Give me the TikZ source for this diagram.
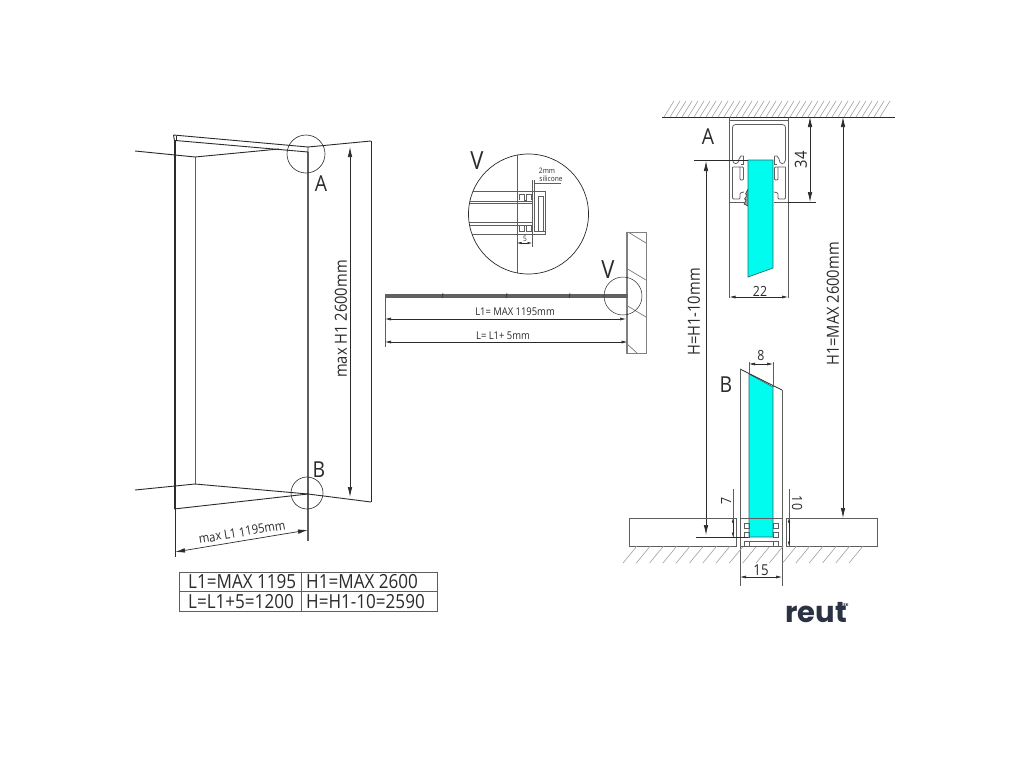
\documentclass[tikz,border=0pt]{standalone}
\usepackage{fontspec}
\setmainfont[FakeStretch=0.88]{Open Sans}
\usetikzlibrary{arrows.meta}
\definecolor{ink}{HTML}{2B2B2B}
\definecolor{thin}{HTML}{5E5E5E}
\definecolor{hatchc}{HTML}{A0A0A0}
\definecolor{glass}{HTML}{00FBEF}
\definecolor{glassline}{HTML}{1F6F6F}
\definecolor{logoc}{HTML}{2A3244}
\newfontfamily\logofont{Poppins}
\tikzset{
  x=1pt,y=-1pt,
  main/.style={draw=ink,line width=0.9pt},
  heavy/.style={draw=ink,line width=1.1pt},
  fine/.style={draw=thin,line width=0.75pt},
  hair/.style={draw=thin,line width=0.5pt},
  dim/.style={draw=ink,line width=0.7pt,{Latex[length=10pt,width=4.5pt]}-{Latex[length=10pt,width=4.5pt]}},
  middim/.style={draw=ink,line width=0.6pt,{Latex[length=6pt,width=3pt]}-{Latex[length=6pt,width=3pt]}},
  smalldim/.style={draw=ink,line width=0.5pt,{Latex[length=4.5pt,width=2.5pt]}-{Latex[length=4.5pt,width=2.5pt]}},
  hatchline/.style={draw=hatchc,line width=0.6pt},
  big/.style={font=\fontsize{22}{22}\selectfont,text=ink,inner sep=0pt},
  label15/.style={font=\fontsize{16.7}{17}\selectfont,text=ink,inner sep=0pt},
  label11/.style={font=\fontsize{12.8}{13}\selectfont,text=ink,inner sep=0pt},
  label9/.style={font=\fontsize{10.7}{11}\selectfont,text=ink,inner sep=0pt},
  tiny7/.style={font=\fontsize{7.5}{8}\selectfont,text=ink,inner sep=0pt},
  tablet/.style={font=\fontsize{19.4}{20}\selectfont,text=ink,inner sep=0pt,anchor=west},
  glasspane/.style={fill=glass,draw=glassline,line width=0.7pt},
}
\begin{document}
\begin{tikzpicture}
\useasboundingbox (0,0) rectangle (1024,768);
\fill[white] (0,0) rectangle (1024,768);

%% ---------- Left view ----------
\draw[heavy] (175,140) -- (175,509);
\draw[fine] (195,157) -- (195,484);
\draw[heavy,draw=thin] (308,152) -- (308,541);
\draw[main] (371,141) -- (371,502);
\draw[main] (173.5,135) -- (308,147) -- (308,152) -- (175.5,140.5) -- (174.5,141) -- (173.5,135);
\draw[main] (176,135.5) -- (176,141);
\draw[main] (135,151) -- (195,157) -- (279,149);
\draw[main] (308,147) -- (371,141);
\draw[main] (135,490) -- (195,484) -- (308,494) -- (371,502);
\draw[main] (174,509) -- (308,494);
\draw[main] (175,509) -- (175,557);
\node[circle,draw=ink,line width=0.6pt,minimum size=38pt,inner sep=0pt] (circA) at (306,154) {};
\node[circle,draw=ink,line width=0.6pt,minimum size=32pt,inner sep=0pt] (circB) at (307,493) {};
\node[big] (lblA) at (321,184) {A};
\node[big] (lblB) at (319,470) {B};
\coordinate (h1top) at (350,147);
\coordinate (h1bot) at (350,497);
\draw[dim] (h1top) -- (h1bot);
\node[label15,rotate=90] (maxh) at (341,319) {max H1 2600mm};
\coordinate (l1a) at (175,552);
\coordinate (l1b) at (308,530);
\draw[dim] (l1a) -- (l1b);
\node[label11,rotate=9.5] (maxl) at (242,532) {max L1 1195mm};

%% ---------- Table ----------
\draw[draw=thin,line width=0.9pt] (179,572) rectangle (437,611);
\draw[draw=thin,line width=0.9pt] (179,591.5) -- (437,591.5);
\draw[draw=thin,line width=0.9pt] (301,572) -- (301,611);
\node[tablet] (t1) at (188,582) {L1=MAX 1195};
\node[tablet] (t2) at (306,582) {H1=MAX 2600};
\node[tablet] (t3) at (188,601.5) {L=L1+5=1200};
\node[tablet] (t4) at (306,601.5) {H=H1-10=2590};

%% ---------- Plan view ----------
\draw[fine,draw=hatchc!80!black] (626,232) rectangle (646,353);
\draw[fine,draw=hatchc!80!black] (627.5,232) -- (627.5,353);
\draw[fine,draw=hatchc!80!black] (628,232) -- (646,243);
\draw[fine,draw=hatchc!80!black] (626,268) -- (646,280);
\draw[fine,draw=hatchc!80!black] (626,305) -- (646,317);
\draw[fine,draw=hatchc!80!black] (626,343) -- (637,353);
\fill[fill=black!62] (385,293.5) rectangle (628,297.5);
\foreach \tx in {443,507,570} \draw[ink,line width=0.6pt] (\tx,293) -- (\tx-1,298);
\node[circle,draw=ink,line width=0.5pt,minimum size=38pt,inner sep=0pt] (circV) at (623,296) {};
\node[font=\fontsize{25}{25}\selectfont,text=ink,inner sep=0pt] (lblV2) at (608,270) {V};
\draw[fine] (385,297) -- (385,347);
\draw[middim] (385,319) -- (626,319);
\draw[middim] (385,342) -- (627.5,342);
\node[label9] (l1txt) at (515,312) {L1= MAX 1195mm};
\node[label9] (ltxt) at (503,336) {L= L1+ 5mm};

%% ---------- Detail V ----------
\begin{scope}
\clip (528.5,214) circle (60);
\draw[fine] (517,150) -- (517,280);
\draw[fine] (465,191) -- (545,191) -- (545,234) -- (465,234);
\draw[fine] (465,201) -- (532,201);
\draw[fine] (465,203) -- (532,203);
\draw[fine] (465,222) -- (532,222);
\draw[fine] (465,225) -- (532,225);
\draw[fine] (538,196) rectangle (543,231);
\draw[fine] (532,180) -- (532,247);
\draw[fine] (534.5,180) -- (534.5,231) -- (545,231);
\draw[hair] (519,200) -- (519,194) -- (524,194) -- (524,200) -- (526,200) -- (526,194) -- (531,194) -- (531,200);
\draw[hair] (519,225) -- (519,231) -- (524,231) -- (524,225) -- (526,225) -- (526,231) -- (531,231) -- (531,225);
\end{scope}
\node[circle,draw=ink,line width=0.7pt,minimum size=120pt,inner sep=0pt] (circD) at (528.5,214) {};
\node[font=\fontsize{25}{25}\selectfont,text=ink,inner sep=0pt] (lblV) at (477,161) {V};
\node[tiny7] (t2mm) at (547,171) {2mm};
\node[tiny7] (tsil) at (551,178.5) {silicone};
\draw[fine] (534.5,183.5) -- (561,183.5);
\draw[smalldim] (517,243) -- (532,243);
\node[tiny7] (t5) at (525,238.5) {5};

%% ---------- Section A (top) ----------
\draw[main,line width=0.8pt] (662,117) -- (895,117);
\foreach \hx in {664,670,...,880} \draw[hatchline] (\hx,117) -- (\hx+10,101);
% profile
\draw[fine] (729.5,117) -- (729.5,298);
\draw[fine] (788,117) -- (788,298);
\draw[fine] (729.5,120) -- (788,120);
\draw[fine,rounded corners=3pt] (732.5,160) -- (732.5,124.5) -- (785.5,124.5) -- (785.5,160);
\foreach \xf/\yf in {1/0,-1/1518}{
  \begin{scope}[xshift=\yf pt,xscale=\xf,fine]
  \draw (732.5,160) .. controls (733,165) and (739,165) .. (739,159) -- (741,156) -- (743.5,156);
  \draw (743.5,156) -- (743.5,164) -- (741,164);
  \draw[rounded corners=1pt] (732.5,167) -- (732.5,199) -- (740,199) -- (740,193) -- (744,192);
  \draw[rounded corners=1pt] (732.5,167) -- (743.5,167) -- (743.5,180) -- (740,180) -- (740,167);
  \draw (729.5,202) -- (744,202);
  \end{scope}
}
% seal
\fill[hatchc,draw=ink,line width=0.5pt] (748,189) -- (745.5,194) -- (747,195) -- (744.5,199) -- (746,200) -- (744,204) -- (748,206) -- cycle;
\draw[glasspane] (748,160) -- (773,160) -- (773,268) -- (748,277) -- cycle;
\draw[main,line width=0.6pt] (788,202) -- (816,202);
\draw[dim] (810,117) -- (810,202);
\node[label15,rotate=90] (d34) at (801,160) {34};
\draw[middim] (729.5,297) -- (788,297);
\node[label15,font=\fontsize{14}{14}\selectfont] (d22) at (760,291) {22};
\node[big] (lA) at (708,137) {A};
\draw[main,line width=0.7pt] (694,160) -- (748,160);
\draw[dim] (706,161) -- (706,535);
\node[label15,rotate=90] (hH) at (694,312) {H=H1-10mm};
\draw[dim] (843,117) -- (843,518);
\node[label15,rotate=90] (hH1) at (833,304) {H1=MAX 2600mm};

%% ---------- Section B (bottom) ----------
\draw[glasspane] (749,374) -- (773,387) -- (773,537) -- (749,537) -- cycle;
\draw[main,line width=0.7pt] (740,369) -- (782,390);
\draw[fine] (740,369) -- (740,586);
\draw[fine] (782,390) -- (782,586);
\draw[fine] (749,362) -- (749,374);
\draw[fine] (773,362) -- (773,387);
\draw[middim] (749,364) -- (773,364);
\node[label15,font=\fontsize{14}{14}\selectfont] (d8) at (761,355) {8};
\node[big] (lB) at (726,385) {B};
% floor
\draw[fine] (736,518) -- (629,518) -- (629,546) -- (736,546) -- cycle;
\draw[fine] (786,518) -- (877,518) -- (877,546) -- (786,546) -- cycle;
\foreach \fx in {623,636.3,...,860} \draw[hatchline] (\fx,563) -- (\fx+14,546);
\draw[fine] (740,518) -- (782,518);
\draw[fine] (740,546) -- (782,546);
\foreach \px in {744,773}{
  \draw[hair] (\px,523) rectangle ++(5,5);
  \draw[hair] (\px,532) rectangle ++(5,5);
  \draw[hair] (\px,541) rectangle ++(5,5);
}
\draw[hair] (749,541) -- (773,541);
\draw[main,line width=0.6pt] (696,537) -- (748,537);
\draw[fine] (733,489) -- (733,537);
\draw[fine] (789,489) -- (789,546);
\draw[smalldim] (733,518) -- (733,537);
\draw[smalldim] (789,518) -- (789,546);
\node[label15,font=\fontsize{14}{14}\selectfont,rotate=90] (d7) at (726,501) {7};
\node[label15,font=\fontsize{14}{14}\selectfont,rotate=-90] (d10) at (797,503) {10};
\draw[middim] (740,577) -- (782,577);
\node[label15,font=\fontsize{15}{15}\selectfont] (d15) at (761,570) {15};

%% ---------- Logo ----------
\node[font=\logofont\bfseries\fontsize{29}{29}\selectfont,text=logoc,inner sep=0pt] (logo) at (816,613) {reut};
\node[font=\logofont\bfseries\fontsize{4}{4}\selectfont,text=logoc,inner sep=0pt] (logosk) at (846,605) {SK};
\end{tikzpicture}
\end{document}
